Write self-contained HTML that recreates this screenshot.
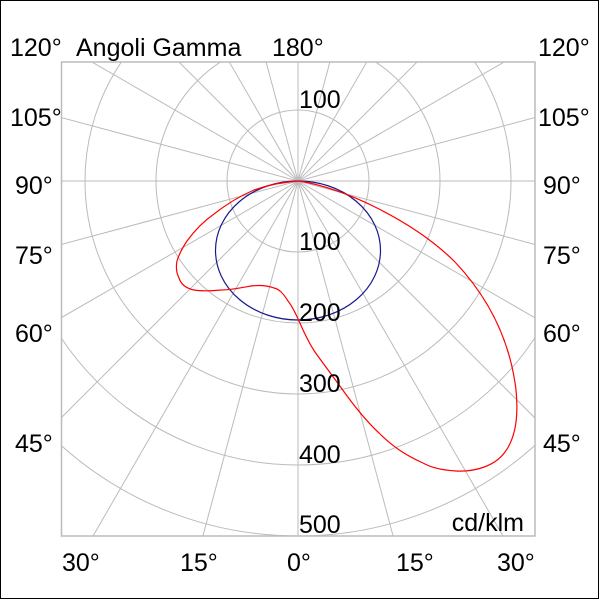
<!DOCTYPE html>
<html><head><style>
html,body{margin:0;padding:0;background:#fff;overflow:hidden;width:600px;height:600px;}
svg{display:block;}
text{font-family:"Liberation Sans",sans-serif;font-size:25px;fill:#000;}
</style></head><body>
<svg width="600" height="600" viewBox="0 0 600 600" xmlns="http://www.w3.org/2000/svg">
<rect x="0.5" y="0.5" width="598" height="598" fill="#fff" stroke="#000" stroke-width="1"/>
<defs><clipPath id="c"><rect x="62" y="62" width="473" height="474"/></clipPath></defs>
<g clip-path="url(#c)" stroke="#bbb" stroke-width="1" fill="none">
<circle cx="298" cy="181" r="71"/>
<circle cx="298" cy="181" r="142"/>
<circle cx="298" cy="181" r="213"/>
<circle cx="298" cy="181" r="284"/>
<circle cx="298" cy="181" r="355"/>
<circle cx="298" cy="181" r="426"/>
<g id="rays">
<line x1="298" y1="181" x2="298" y2="781"/>
<line x1="298" y1="181" x2="453.3" y2="760.6"/>
<line x1="298" y1="181" x2="598" y2="700.6"/>
<line x1="298" y1="181" x2="722.3" y2="605.3"/>
<line x1="298" y1="181" x2="817.6" y2="481"/>
<line x1="298" y1="181" x2="877.6" y2="336.3"/>
<line x1="298" y1="181" x2="898" y2="181"/>
<line x1="298" y1="181" x2="877.6" y2="25.7"/>
<line x1="298" y1="181" x2="817.6" y2="-119"/>
<line x1="298" y1="181" x2="722.3" y2="-243.3"/>
<line x1="298" y1="181" x2="598" y2="-338.6"/>
<line x1="298" y1="181" x2="453.3" y2="-398.6"/>
<line x1="298" y1="181" x2="298" y2="-419"/>
</g>
<use href="#rays" transform="translate(596 0) scale(-1 1)"/>
</g>
<rect x="61.5" y="62" width="473.5" height="474" fill="none" stroke="#bbb" stroke-width="1.5"/>
<ellipse cx="298" cy="250.5" rx="82.5" ry="69.5" fill="none" stroke="#1a1a8c" stroke-width="1.2"/>
<path d="M299,181 C345,188 415,222 455,262 C488,297 510,340 516,390 C519,420 514,440 505,452 C495,466 475,472 456,471 C440,470 430,467 423,463 C405,455 392,446 379,433 C365,420 352,403 342,389 C332,375 322,362 315,352 C308,342 303,330 299,321 C295,312 292,306 288,301 C283,293 279,289 274,288 C266,285 259,285 251,286 C240,288 230,290 221,290 C210,291 200,291 194,290 C185,288 181,284 179,278 C176,272 176,266 177,261 C179,254 183,247 187,241 C195,230 204,221 214,214 C228,203 240,196 254,190 C268,185 283,182 299,181 Z" fill="none" stroke="#f00" stroke-width="1.2"/>
<text x="10" y="56">120°</text>
<text x="76" y="56">Angoli Gamma</text>
<text x="272" y="56">180°</text>
<text x="538" y="56">120°</text>
<text x="10" y="126">105°</text>
<text x="538" y="126">105°</text>
<text x="15" y="194">90°</text>
<text x="543" y="194">90°</text>
<text x="15" y="264">75°</text>
<text x="543" y="264">75°</text>
<text x="15" y="342">60°</text>
<text x="543" y="342">60°</text>
<text x="15" y="452">45°</text>
<text x="543" y="452">45°</text>
<text x="62" y="571">30°</text>
<text x="180" y="571">15°</text>
<text x="287" y="571">0°</text>
<text x="396" y="571">15°</text>
<text x="497" y="571">30°</text>
<text x="299" y="108">100</text>
<text x="299" y="250">100</text>
<text x="299" y="321">200</text>
<text x="299" y="392">300</text>
<text x="299" y="463">400</text>
<text x="299" y="533">500</text>
<text x="524" y="531" text-anchor="end">cd/klm</text>
</svg>
</body></html>
